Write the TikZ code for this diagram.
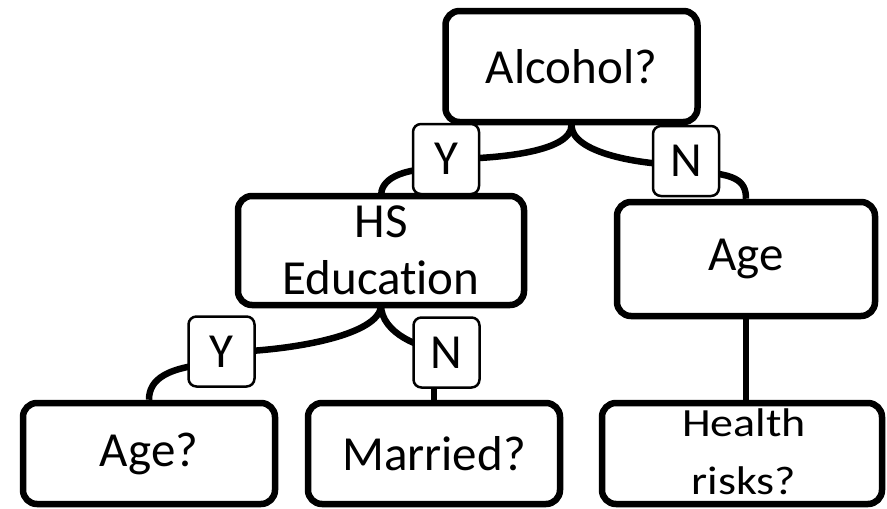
\documentclass[tikz,border=0pt]{standalone}
\usepackage{fontspec}
\setmainfont[RawFeature={-liga}]{Carlito}
\usetikzlibrary{calc}
\tikzset{
  qbox/.style={draw, line width=6.5pt, rounded corners=14pt, fill=white, align=center, inner sep=0pt, font=\fontsize{49}{57}\selectfont},
  lbl/.style={draw, line width=2.5pt, rounded corners=8pt, fill=white, inner sep=0pt, minimum width=66pt, minimum height=70pt, font=\fontsize{49}{57}\selectfont},
  conn/.style={line width=6.5pt}
}
\begin{document}
\begin{tikzpicture}[x=1pt, y=-1pt]
\useasboundingbox (0,0) rectangle (887,509);
% nodes
\node[qbox, minimum width=252pt, minimum height=111pt] (alc) at (571.5,66.5) {Alcohol?};
\node[qbox, minimum width=258pt, minimum height=114pt] (age) at (746,259) {Age};
\node[qbox, minimum width=252pt, minimum height=101pt] (ageq) at (149,453.5) {Age?};
\node[qbox, minimum width=252pt, minimum height=101pt] (mar) at (434,453.5) {Married?};
\node[qbox, minimum width=280pt, minimum height=101pt] (hr) at (742,453.5) {};
\node[inner sep=0pt, font=\fontsize{46}{66}\selectfont] (hrt) at (744,454) {\scalebox{1}[0.87]{\begin{tabular}{@{}c@{}}Health\\risks?\end{tabular}}};
\coordinate (hsn) at (381,196);
\coordinate (hss) at (381,305);
% connectors
\draw[conn] (alc.south) .. controls +(0,28) and +(45,0) .. (446,159) coordinate (y1c);
\draw[conn] (alc.south) .. controls +(0,28) and +(-45,0) .. (686,165) coordinate (n1c);
\draw[conn] (446,168) coordinate (y1d) .. controls +(-50,0) and +(0,-15) .. (hsn);
\draw[conn] (686,172) coordinate (n1d) .. controls +(50,0) and +(0,-18) .. (age.north);
\draw[conn] (hss) .. controls +(0,32) and +(60,0) .. (221,352) coordinate (y2c);
\draw[conn] (hss) .. controls +(0,28) and +(-25,0) .. (446,350) coordinate (n2c);
\draw[conn] (221,363) coordinate (y2d) .. controls +(-55,3) and +(0,-20) .. (ageq.north);
\draw[conn] (mar.north) -- (mar.north |- 0,352);
\draw[conn] (age.south) -- (hr.north -| age.south);
% boxes drawn over connector ends
\node[qbox, minimum width=286pt, minimum height=109pt] (hs) at (381,250.5) {HS\\Education};
% labels
\node[lbl] (yl1) at (446,159) {Y};
\node[lbl] (nl1) at (686,161) {N};
\node[lbl] (yl2) at (221.5,351.5) {Y};
\node[lbl] (nl2) at (446.5,352.5) {N};
\end{tikzpicture}
\end{document}
